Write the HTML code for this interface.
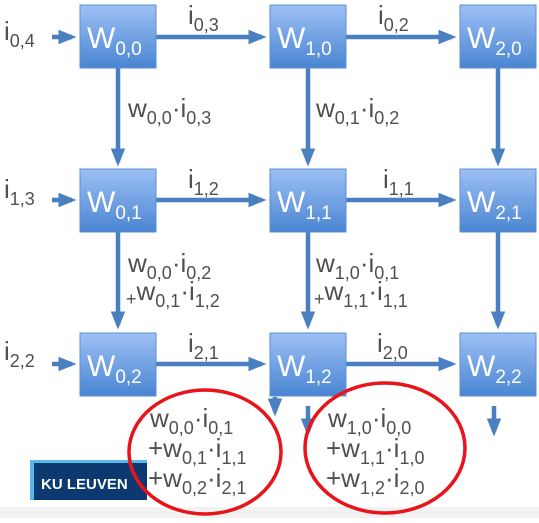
<!DOCTYPE html>
<html><head><meta charset="utf-8"><style>
body{margin:0;background:#fff;width:539px;height:518px;overflow:hidden}
text{font-family:"Liberation Sans",sans-serif}
.l{fill:#505050;font-size:26px}
.l tspan[font-size]{font-size:18px}
.b{fill:#fff;font-size:30px}
.b tspan{font-size:19px}
</style></head><body>
<svg width="539" height="518" viewBox="0 0 539 518">
<defs>
<linearGradient id="g" x1="0" y1="0" x2="0" y2="1"><stop offset="0" stop-color="#9dc0f5"/><stop offset="1" stop-color="#4a85d2"/></linearGradient>
<marker id="a" markerWidth="4" markerHeight="4" refX="3" refY="2" orient="auto" markerUnits="strokeWidth"><path d="M0,0.4 L4,2 L0,3.6z" fill="#4a7fc0"/></marker>
</defs>
<rect x="0" y="507" width="539" height="11" fill="#f2f2f2"/>
<g stroke="#4a7fc0" stroke-width="4.5" marker-end="url(#a)">
<line x1="52" y1="37" x2="72" y2="37"/><line x1="155" y1="37" x2="262" y2="37"/><line x1="346" y1="37" x2="452" y2="37"/>
<line x1="52" y1="200" x2="72" y2="200"/><line x1="155" y1="200" x2="262" y2="200"/><line x1="346" y1="200" x2="452" y2="200"/>
<line x1="52" y1="364" x2="72" y2="364"/><line x1="155" y1="364" x2="262" y2="364"/><line x1="346" y1="364" x2="452" y2="364"/>
<line x1="118" y1="68" x2="118" y2="162"/><line x1="308" y1="68" x2="308" y2="162"/><line x1="498" y1="68" x2="498" y2="162"/>
<line x1="118" y1="232" x2="118" y2="325"/><line x1="308" y1="232" x2="308" y2="325"/><line x1="498" y1="232" x2="498" y2="325"/>
<line x1="275" y1="397" x2="275" y2="412"/><line x1="308" y1="406" x2="308" y2="432"/><line x1="494" y1="406" x2="494" y2="432"/>
</g>
<g>
<g><rect x="80" y="5" width="76" height="63" fill="url(#g)" stroke="#5b8fd0"/><text class="b" x="87" y="48">W<tspan dy="7">0,0</tspan></text></g>
<g><rect x="270" y="5" width="76" height="63" fill="url(#g)" stroke="#5b8fd0"/><text class="b" x="277" y="48">W<tspan dy="7">1,0</tspan></text></g>
<g><rect x="460" y="5" width="76" height="63" fill="url(#g)" stroke="#5b8fd0"/><text class="b" x="467" y="48">W<tspan dy="7">2,0</tspan></text></g>
<g><rect x="80" y="169" width="76" height="63" fill="url(#g)" stroke="#5b8fd0"/><text class="b" x="87" y="212">W<tspan dy="7">0,1</tspan></text></g>
<g><rect x="270" y="169" width="76" height="63" fill="url(#g)" stroke="#5b8fd0"/><text class="b" x="277" y="212">W<tspan dy="7">1,1</tspan></text></g>
<g><rect x="460" y="169" width="76" height="63" fill="url(#g)" stroke="#5b8fd0"/><text class="b" x="467" y="212">W<tspan dy="7">2,1</tspan></text></g>
<g><rect x="80" y="333" width="76" height="63" fill="url(#g)" stroke="#5b8fd0"/><text class="b" x="87" y="376">W<tspan dy="7">0,2</tspan></text></g>
<g><rect x="270" y="333" width="76" height="63" fill="url(#g)" stroke="#5b8fd0"/><text class="b" x="277" y="376">W<tspan dy="7">1,2</tspan></text></g>
<g><rect x="460" y="333" width="76" height="63" fill="url(#g)" stroke="#5b8fd0"/><text class="b" x="467" y="376">W<tspan dy="7">2,2</tspan></text></g>
</g>
<g class="l">
<text x="4" y="40">i<tspan dy="7" font-size="18">0,4</tspan></text>
<text x="188" y="24">i<tspan dy="7" font-size="18">0,3</tspan></text>
<text x="378" y="24">i<tspan dy="7" font-size="18">0,2</tspan></text>
<text x="4" y="198">i<tspan dy="7" font-size="18">1,3</tspan></text>
<text x="188" y="188">i<tspan dy="7" font-size="18">1,2</tspan></text>
<text x="383" y="188">i<tspan dy="7" font-size="18">1,1</tspan></text>
<text x="4" y="360">i<tspan dy="7" font-size="18">2,2</tspan></text>
<text x="188" y="352">i<tspan dy="7" font-size="18">2,1</tspan></text>
<text x="377" y="352">i<tspan dy="7" font-size="18">2,0</tspan></text>
<text x="128" y="117">w<tspan dy="7" font-size="18">0,0</tspan><tspan dy="-7">·i</tspan><tspan dy="7" font-size="18">0,3</tspan></text>
<text x="316" y="117">w<tspan dy="7" font-size="18">0,1</tspan><tspan dy="-7">·i</tspan><tspan dy="7" font-size="18">0,2</tspan></text>
<text x="128" y="272">w<tspan dy="7" font-size="18">0,0</tspan><tspan dy="-7">·i</tspan><tspan dy="7" font-size="18">0,2</tspan></text>
<text x="126" y="300"><tspan font-size="15" dy="5">+</tspan><tspan dy="-5">w</tspan><tspan dy="7" font-size="18">0,1</tspan><tspan dy="-7">·i</tspan><tspan dy="7" font-size="18">1,2</tspan></text>
<text x="316" y="272">w<tspan dy="7" font-size="18">1,0</tspan><tspan dy="-7">·i</tspan><tspan dy="7" font-size="18">0,1</tspan></text>
<text x="314" y="300"><tspan font-size="15" dy="5">+</tspan><tspan dy="-5">w</tspan><tspan dy="7" font-size="18">1,1</tspan><tspan dy="-7">·i</tspan><tspan dy="7" font-size="18">1,1</tspan></text>
<text x="150" y="427">w<tspan dy="7" font-size="18">0,0</tspan><tspan dy="-7">·i</tspan><tspan dy="7" font-size="18">0,1</tspan></text>
<text x="148" y="457">+w<tspan dy="7" font-size="18">0,1</tspan><tspan dy="-7">·i</tspan><tspan dy="7" font-size="18">1,1</tspan></text>
<text x="148" y="487">+w<tspan dy="7" font-size="18">0,2</tspan><tspan dy="-7">·i</tspan><tspan dy="7" font-size="18">2,1</tspan></text>
<text x="328" y="427">w<tspan dy="7" font-size="18">1,0</tspan><tspan dy="-7">·i</tspan><tspan dy="7" font-size="18">0,0</tspan></text>
<text x="326" y="457">+w<tspan dy="7" font-size="18">1,1</tspan><tspan dy="-7">·i</tspan><tspan dy="7" font-size="18">1,0</tspan></text>
<text x="326" y="487">+w<tspan dy="7" font-size="18">1,2</tspan><tspan dy="-7">·i</tspan><tspan dy="7" font-size="18">2,0</tspan></text>
</g>
<g>
<rect x="30" y="460" width="117" height="40" fill="#5bb7e6"/>
<rect x="34" y="463" width="113" height="37" fill="#0c3a70"/>
<text x="41" y="489" fill="#fff" font-size="15" font-weight="bold">KU LEUVEN</text>
</g>
<ellipse cx="205" cy="452" rx="76" ry="62" fill="none" stroke="#e8141a" stroke-width="3.5"/>
<ellipse cx="385" cy="448" rx="80" ry="65" fill="none" stroke="#e8141a" stroke-width="3.5"/>
</svg>
</body></html>
